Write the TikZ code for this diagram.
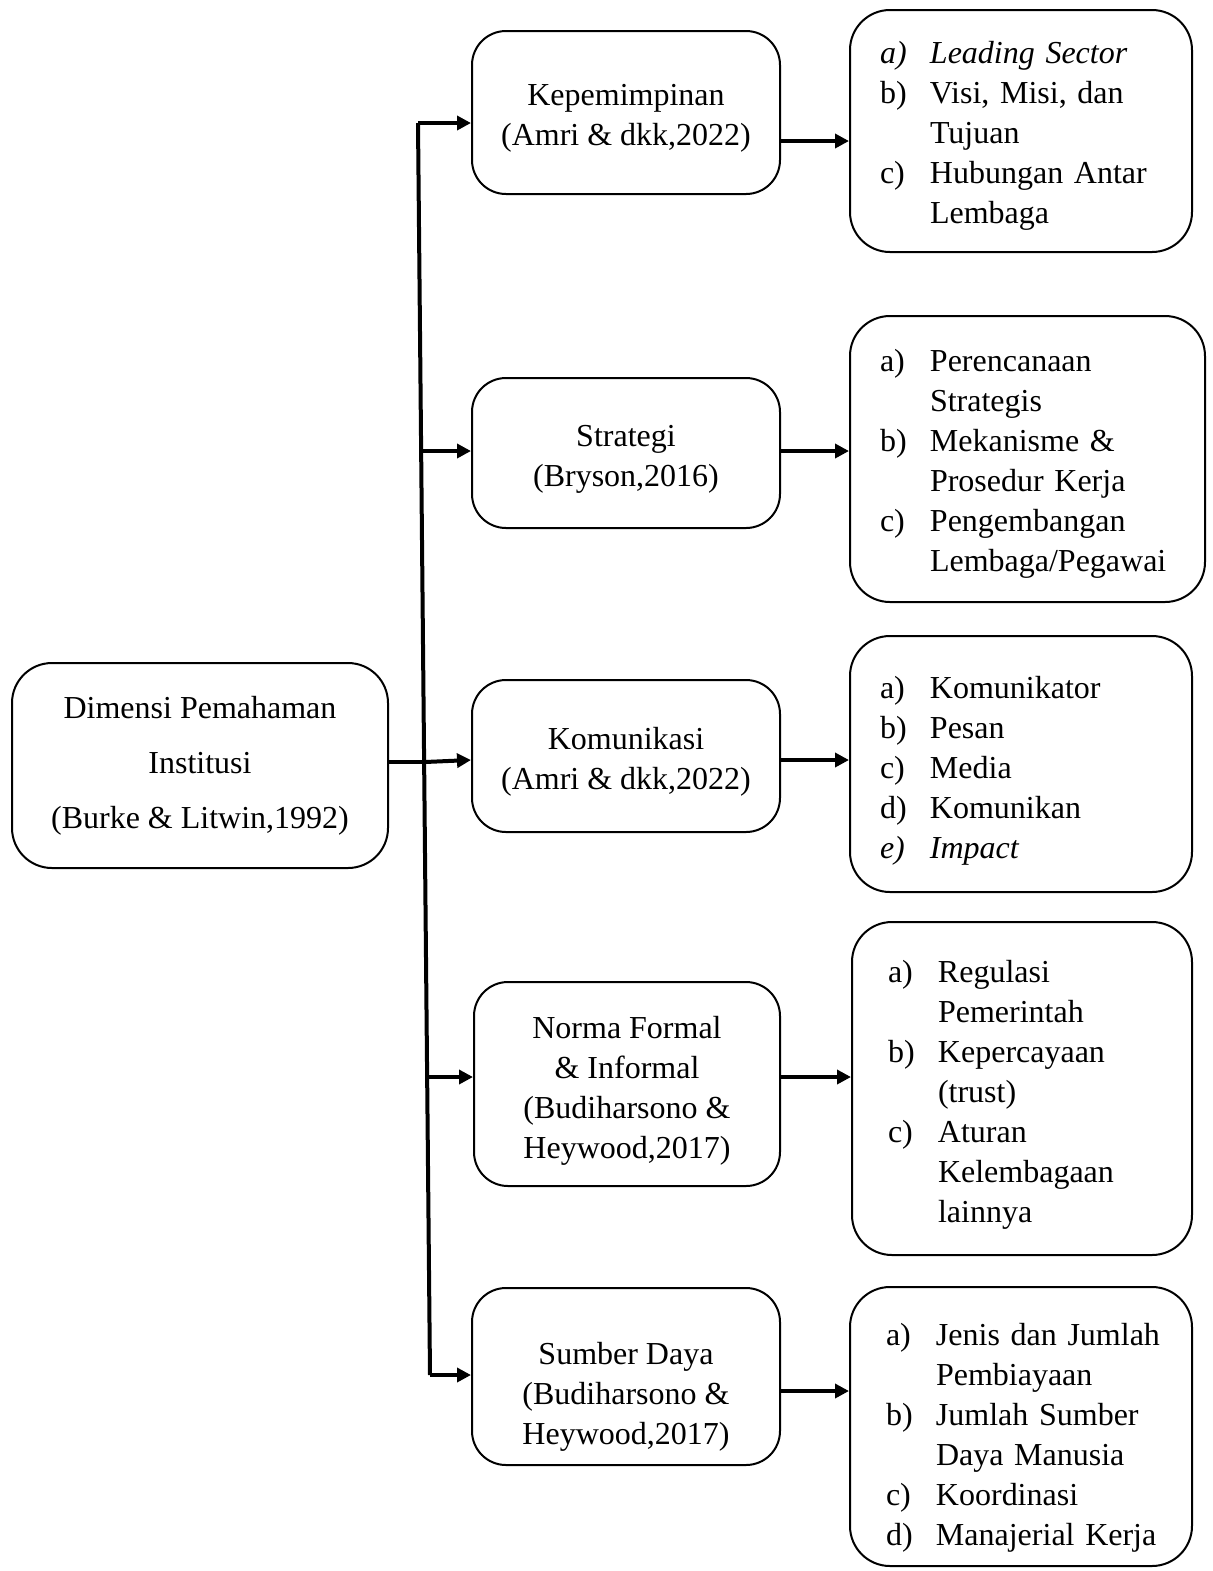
\documentclass[tikz,border=0pt]{standalone}
\usepackage{fontspec}
\setmainfont{Liberation Serif}
\usepackage{tikz}
\usetikzlibrary{arrows.meta,positioning}

\newcommand{\lst}[2][2.5pt]{\raisebox{-#1}[\height][\depth]{\begin{tabular}{@{}p{25pt}@{}l@{}}#2\end{tabular}}}
\newcommand{\mtxt}[2][2.5pt]{\raisebox{-#1}[\height][\depth]{\begin{tabular}{@{}c@{}}#2\end{tabular}}}

\begin{document}
\begin{tikzpicture}[
  x=0.5pt, y=-0.5pt,
  font=\fontsize{16}{20}\selectfont,
  box/.style={draw=black,line width=1pt,rounded corners=17pt,align=center,inner sep=2pt},
  rootbox/.style={box,rounded corners=20pt,minimum width=188pt,minimum height=102.5pt,
                  font=\fontsize{16}{27.5}\selectfont},
  mid/.style={box,minimum width=154pt},
  rbox/.style={box,rounded corners=20pt,align=left,text width=141pt,inner xsep=15pt},
  arr/.style={-{Triangle[length=7pt,width=7pt]},line width=2pt},
  spine/.style={line width=2pt},
]
\useasboundingbox (0,0) rectangle (1213,1571);

% --- left: the dimension ---------------------------------------------------
\node[rootbox] (root) at (200,765.5) {Dimensi Pemahaman\\Institusi\\(Burke \& Litwin,1992)};

% --- middle column ---------------------------------------------------------
\node[mid,minimum height=81.5pt] (lead) at (626,112.5) {\mtxt{Kepemimpinan\\(Amri \& dkk,2022)}};
\node[mid,minimum height=75pt]   (strat) at (626,453) {\mtxt{Strategi\\(Bryson,2016)}};
\node[mid,minimum height=76pt]   (kom) at (626,756) {\mtxt{Komunikasi\\(Amri \& dkk,2022)}};
\node[mid,minimum width=153pt,minimum height=102pt] (norma) at (627,1084)
     {\mtxt[3pt]{Norma Formal\\\& Informal\\(Budiharsono \&\\Heywood,2017)}};
\node[mid,minimum height=88.5pt] (sd) at (626,1376.5)
     {\mtxt[10pt]{Sumber Daya\\(Budiharsono \&\\Heywood,2017)}};

% --- right column: indicators ----------------------------------------------
\node[rbox,minimum height=121pt] (ilead) at (1021,131) {\lst[2pt]{
  \textit{a)} & \textit{Leading Sector}\\
  b) & Visi, Misi, dan\\
     & Tujuan\\
  c) & Hubungan Antar\\
     & Lembaga}};
\node[rbox,text width=147.5pt,minimum height=143pt] (istrat) at (1027.5,459) {\lst[2pt]{
  a) & Perencanaan\\
     & Strategis\\
  b) & Mekanisme \&\\
     & Prosedur Kerja\\
  c) & Pengembangan\\
     & Lembaga/Pegawai}};
\node[rbox,minimum height=128pt] (ikom) at (1021,764) {\lst[3pt]{
  a) & Komunikator\\
  b) & Pesan\\
  c) & Media\\
  d) & Komunikan\\
  \textit{e)} & \textit{Impact}}};
\node[rbox,text width=134pt,inner xsep=18pt,minimum height=166.5pt] (inorma) at (1022,1088.5) {\lst[3pt]{
  a) & Regulasi\\
     & Pemerintah\\
  b) & Kepercayaan\\
     & (trust)\\
  c) & Aturan\\
     & Kelembagaan\\
     & lainnya}};
\node[rbox,text width=135pt,inner xsep=18pt,minimum height=139.5pt] (isd) at (1021,1426.5) {\lst[5.5pt]{
  a) & Jenis dan Jumlah\\
     & Pembiayaan\\
  b) & Jumlah Sumber\\
     & Daya Manusia\\
  c) & Koordinasi\\
  d) & Manajerial Kerja}};

% --- spine -----------------------------------------------------------------
\coordinate (s1) at (418,123);
\coordinate (s2) at (420,451);
\coordinate (s3) at (425,762);
\coordinate (s4) at (428,1077);
\coordinate (s5) at (430,1375);
\draw[spine] (s1) -- (s5);

% --- spine to middle -------------------------------------------------------
\draw[arr] (s1) -- (s1 -| lead.west);
\draw[arr] (s2) -- (s2 -| strat.west);
\draw[spine] ([yshift=1.75pt]root.east) -- (s3);
\draw[arr] (s3) -- ([yshift=-2pt]kom.west);
\draw[arr] (s4) -- (s4 -| norma.west);
\draw[arr] (s5) -- (s5 -| sd.west);

% --- middle to right -------------------------------------------------------
\draw[arr] ([yshift=-14.25pt]lead.east) -- ([yshift=-14.25pt]lead.east -| ilead.west);
\draw[arr] ([yshift=1pt]strat.east) -- ([yshift=1pt]strat.east -| istrat.west);
\draw[arr] ([yshift=-2pt]kom.east) -- ([yshift=-2pt]kom.east -| ikom.west);
\draw[arr] ([yshift=3.5pt]norma.east) -- ([yshift=3.5pt]norma.east -| inorma.west);
\draw[arr] ([yshift=-7.25pt]sd.east) -- ([yshift=-7.25pt]sd.east -| isd.west);
\end{tikzpicture}
\end{document}
